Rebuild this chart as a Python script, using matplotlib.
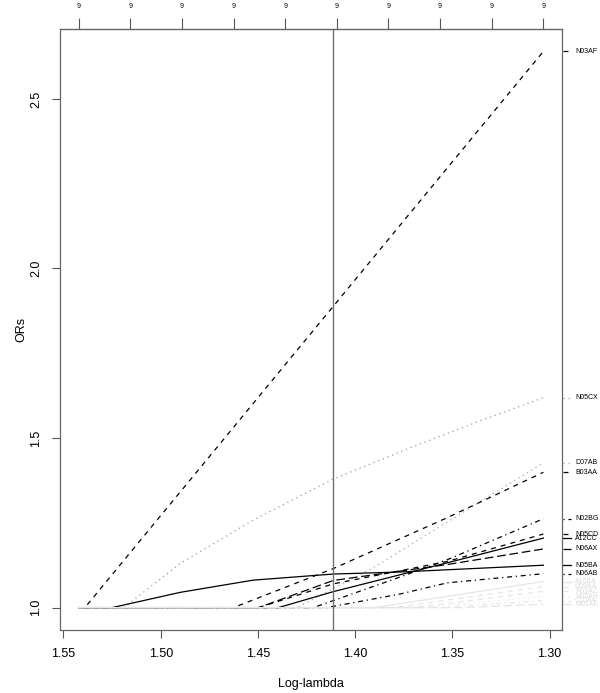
import matplotlib
matplotlib.use("Agg")
import matplotlib.pyplot as plt

plt.rcParams["font.family"] = ["Liberation Sans", "DejaVu Sans"]

# path range in log-lambda (x axis is reversed)
cut_lambda = 1.4113

top_tick_x = [1.5422, 1.5156, 1.4891, 1.4625, 1.4360, 1.4094, 1.3829, 1.3563, 1.3297, 1.3032]
top_tick_labels = ["9"] * 10

x_ticks = [1.55, 1.50, 1.45, 1.40, 1.35, 1.30]
y_ticks = [1.0, 1.5, 2.0, 2.5]

# one entry per drug: name, x points, OR values
names = ["N03AF", "N05CX", "D07AB", "B03AA", "N02BG", "N05CD", "A12CC", "N06AX", "N05BA", "N06AB",
         "A10BA", "C09AA", "R03AC", "N05AH", "C10AA", "M01AE"]

path_x = {
    "N03AF": [1.5422, 1.5390, 1.3032],
    "N05CX": [1.5422, 1.5190, 1.4900, 1.4525, 1.4113, 1.3700, 1.3356, 1.3032],
    "D07AB": [1.5422, 1.4300, 1.3900, 1.3032],
    "B03AA": [1.5422, 1.4626, 1.4113, 1.3527, 1.3032],
    "N02BG": [1.5422, 1.4215, 1.3770, 1.3527, 1.3032],
    "N05CD": [1.5422, 1.4497, 1.4113, 1.3527, 1.3032],
    "A12CC": [1.5422, 1.4395, 1.4113, 1.3527, 1.3032],
    "N06AX": [1.5422, 1.4497, 1.4113, 1.3527, 1.3032],
    "N05BA": [1.5422, 1.5250, 1.4900, 1.4525, 1.4113, 1.3770, 1.3032],
    "N06AB": [1.5422, 1.4146, 1.3770, 1.3527, 1.3032],
    "A10BA": [1.5422, 1.3900, 1.3032],
    "C09AA": [1.5422, 1.3800, 1.3032],
    "R03AC": [1.5422, 1.3700, 1.3032],
    "N05AH": [1.5422, 1.3650, 1.3032],
    "C10AA": [1.5422, 1.3550, 1.3032],
    "M01AE": [1.5422, 1.3450, 1.3032],
}
path_or = {
    "N03AF": [1.0, 1.0, 2.64],
    "N05CX": [1.0, 1.0, 1.13, 1.258, 1.379, 1.475, 1.551, 1.619],
    "D07AB": [1.0, 1.0, 1.12, 1.427],
    "B03AA": [1.0, 1.0, 1.115, 1.265, 1.399],
    "N02BG": [1.0, 1.0, 1.09, 1.141, 1.262],
    "N05CD": [1.0, 1.0, 1.07, 1.136, 1.217],
    "A12CC": [1.0, 1.0, 1.047, 1.132, 1.205],
    "N06AX": [1.0, 1.0, 1.08, 1.127, 1.173],
    "N05BA": [1.0, 1.0, 1.045, 1.081, 1.099, 1.105, 1.125],
    "N06AB": [1.0, 1.0, 1.04, 1.073, 1.100],
    "A10BA": [1.0, 1.0, 1.077],
    "C09AA": [1.0, 1.0, 1.062],
    "R03AC": [1.0, 1.0, 1.048],
    "N05AH": [1.0, 1.0, 1.033],
    "C10AA": [1.0, 1.0, 1.021],
    "M01AE": [1.0, 1.0, 1.010],
}

dash = (0, (4, 4))
dots = (0, (1, 3))
dotdash = (0, (1, 3, 4, 3))
longdash = (0, (7, 3))
styles = {
    "N03AF": (dash, "black"), "N05CX": (dots, "#9a9a9a"), "D07AB": (dots, "#a8a8a8"),
    "B03AA": (dash, "black"), "N02BG": (dotdash, "black"), "N05CD": (dash, "black"),
    "A12CC": ("-", "black"), "N06AX": (longdash, "black"), "N05BA": ("-", "black"),
    "N06AB": (dotdash, "black"),
}
faint = "#e6e6e6"
faint_styles = [dash, dots, dotdash, longdash, "-", dash]

fig = plt.figure(figsize=(6, 6.93), dpi=100)
ax = fig.add_axes([0.1, 0.0909, 0.8367, 0.8672])

for i, name in enumerate(names):
    if name in styles:
        ls, col = styles[name]
    else:
        ls, col = faint_styles[i % len(faint_styles)], faint
    ax.plot(path_x[name], path_or[name], linestyle=ls, color=col, lw=0.9)
    end_val = path_or[name][-1]
    ax.plot([1.002, 1.018], [end_val, end_val], transform=ax.get_yaxis_transform(),
            linestyle=ls, color=col, lw=0.9, clip_on=False)
    ax.text(1.026, end_val, name, transform=ax.get_yaxis_transform(), fontsize=5,
            va="center", ha="left", color="black" if name in styles else "#dcdcdc")

ax.axvline(cut_lambda, color="#707070", lw=1.0)

ax.set_xlim(1.5518, 1.2936)
ax.set_ylim(0.934, 2.706)
ax.set_xticks(x_ticks)
ax.set_xticklabels([f"{v:.2f}" for v in x_ticks])
ax.set_yticks(y_ticks)
ax.set_yticklabels([f"{v:.1f}" for v in y_ticks], rotation=90, va="center")
ax.tick_params(labelsize=9, length=6, width=0.8, color="#555555", pad=7)
for s in ax.spines.values():
    s.set_color("#666666")
    s.set_linewidth(0.9)

ax.set_xlabel("Log-lambda", fontsize=9, labelpad=13)
ax.set_ylabel("ORs", fontsize=9, labelpad=2)

top = ax.secondary_xaxis("top")
top.set_xticks(top_tick_x)
top.set_xticklabels(top_tick_labels)
top.tick_params(labelsize=5, length=8, width=0.8, color="#555555", pad=6)

fig.savefig("out.png", dpi=100)
